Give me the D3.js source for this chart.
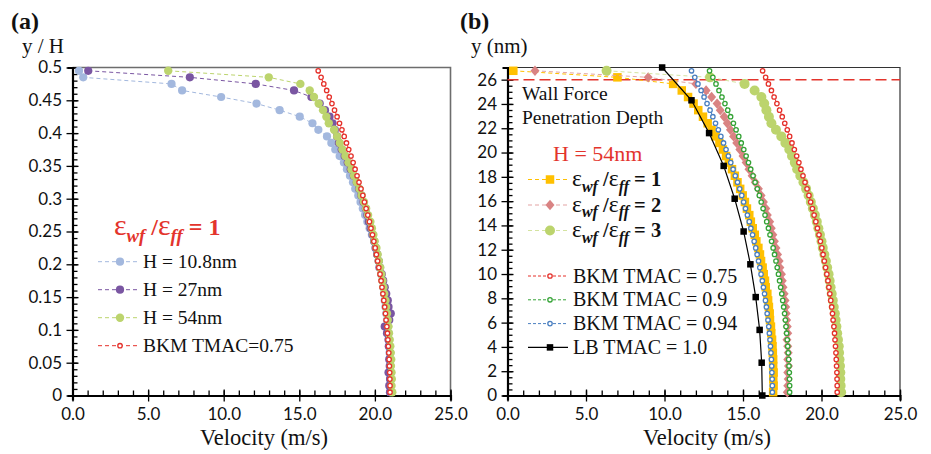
<!DOCTYPE html>
<html><head><meta charset="utf-8">
<script src="https://cdn.jsdelivr.net/npm/d3@7"></script>
<style>body{margin:0;background:#fff}svg{display:block}</style>
</head><body>
<svg id="c" width="931" height="454"></svg>
<script>
// ---------------- DATA ----------------
// panel (a): y/H bin centres (top to bottom)
const yLevelsA = [0.495,0.485,0.475,0.465,0.455,0.445,0.435,0.425,0.415,0.405,
  0.395,0.385,0.375,0.365,0.355,0.345,0.335,0.325,0.315,0.305,
  0.295,0.285,0.275,0.265,0.255,0.245,0.235,0.225,0.215,0.205,
  0.195,0.185,0.175,0.165,0.155,0.145,0.135,0.125,0.115,0.105,
  0.095,0.085,0.075,0.065,0.055,0.045,0.035,0.025,0.015,0.005];
// panel (b): y (nm) bin centres (top to bottom)
const yLevelsB = [26.73,26.19,25.65,25.11,24.57,24.03,23.49,22.95,22.41,21.87,
  21.33,20.79,20.25,19.71,19.17,18.63,18.09,17.55,17.01,16.47,
  15.93,15.39,14.85,14.31,13.77,13.23,12.69,12.15,11.61,11.07,
  10.53,9.99,9.45,8.91,8.37,7.83,7.29,6.75,6.21,5.67,
  5.13,4.59,4.05,3.51,2.97,2.43,1.89,1.35,0.81,0.27];

const velH108 = [0.43,0.71,6.55,7.25,9.83,12.17,13.70,15.03,15.87,16.26,
  16.83,17.12,17.38,17.67,17.95,18.15,18.35,18.55,18.70,18.90,
  19.05,19.20,19.35,19.50,19.65,19.80,19.95,20.05,20.15,20.25,
  20.35,20.42,20.50,20.55,20.60,20.65,20.70,20.75,20.80,20.85,
  20.90,20.92,20.95,20.97,20.98,21.00,21.00,21.00,21.00,21.00];
const velH27 = [1.04,7.76,12.12,14.65,15.80,16.35,16.70,17.00,17.20,17.35,
  17.50,17.62,17.80,18.00,18.20,18.40,18.60,18.80,18.95,19.10,
  19.25,19.40,19.50,19.60,19.72,19.85,19.95,20.05,20.15,20.25,
  20.30,20.45,20.55,20.65,20.75,20.85,20.90,21.05,20.95,20.65,
  20.80,20.90,20.92,21.00,20.95,20.98,20.90,21.00,20.95,21.00];
const velH54 = [6.33,12.98,15.07,15.69,15.97,16.28,16.57,16.79,16.95,17.30,
  17.50,17.68,17.85,18.05,18.25,18.45,18.62,18.80,18.98,19.12,
  19.28,19.42,19.55,19.70,19.80,19.90,19.98,20.10,20.18,20.26,
  20.35,20.42,20.50,20.56,20.62,20.70,20.74,20.80,20.85,20.90,
  20.93,20.98,21.02,21.05,21.08,21.06,21.10,21.12,21.10,21.15];
const velBKM075 = [16.25,16.44,16.62,16.81,16.98,17.16,17.33,17.50,17.66,17.82,
  17.97,18.12,18.27,18.42,18.56,18.69,18.82,18.95,19.08,19.20,
  19.31,19.42,19.53,19.64,19.74,19.84,19.93,20.02,20.10,20.18,
  20.26,20.34,20.41,20.47,20.53,20.59,20.65,20.70,20.74,20.79,
  20.83,20.86,20.89,20.92,20.94,20.96,20.98,20.99,21.00,21.00];
const velBKM090 = [12.87,13.08,13.28,13.47,13.66,13.85,14.03,14.21,14.39,14.56,
  14.73,14.89,15.05,15.20,15.35,15.49,15.64,15.77,15.91,16.04,
  16.16,16.28,16.40,16.51,16.62,16.72,16.82,16.92,17.01,17.10,
  17.18,17.26,17.33,17.40,17.47,17.53,17.59,17.65,17.70,17.74,
  17.78,17.82,17.85,17.88,17.91,17.93,17.95,17.96,17.97,17.97];
const velBKM094 = [11.72,11.93,12.13,12.33,12.52,12.71,12.90,13.08,13.25,13.43,
  13.59,13.76,13.92,14.07,14.22,14.37,14.51,14.65,14.79,14.92,
  15.04,15.16,15.28,15.40,15.50,15.61,15.71,15.81,15.90,15.99,
  16.07,16.15,16.23,16.30,16.37,16.43,16.49,16.54,16.59,16.64,
  16.68,16.72,16.75,16.78,16.81,16.83,16.84,16.86,16.87,16.87];
const velEps1 = [0.37,7.00,10.55,11.10,11.50,11.85,12.15,12.45,12.75,13.00,
  13.25,13.50,13.72,13.92,14.10,14.30,14.48,14.65,14.82,14.98,
  15.12,15.25,15.40,15.50,15.62,15.75,15.85,15.98,16.08,16.15,
  16.25,16.32,16.40,16.45,16.55,16.60,16.65,16.70,16.72,16.78,
  16.80,16.85,16.88,16.90,16.92,16.92,16.95,16.93,16.95,16.92];
const velEps2 = [1.75,8.96,12.00,12.65,13.00,13.35,13.55,13.80,14.00,14.20,
  14.40,14.60,14.80,15.00,15.20,15.38,15.58,15.78,15.98,16.15,
  16.30,16.45,16.55,16.70,16.80,16.90,17.00,17.10,17.20,17.30,
  17.35,17.45,17.50,17.55,17.62,17.68,17.72,17.75,17.78,17.82,
  17.85,17.80,17.85,17.88,17.85,17.90,17.85,17.88,17.85,17.82];
const velEps3 = [6.31,12.90,15.10,15.74,16.17,16.35,16.49,16.65,16.81,17.10,
  17.44,17.70,17.95,18.12,18.30,18.45,18.65,18.85,19.02,19.18,
  19.32,19.45,19.58,19.70,19.80,19.90,20.00,20.08,20.18,20.28,
  20.36,20.45,20.52,20.58,20.65,20.72,20.78,20.85,20.90,20.95,
  21.00,21.05,21.10,21.12,21.15,21.18,21.20,21.20,21.22,21.25];
const lbY = [27,24.3,21.6,18.9,16.2,13.5,10.8,8.1,5.4,2.7,0];
const lbVel = [9.85,11.72,12.84,13.77,14.47,15.04,15.47,15.81,16.06,16.19,16.23];
const wallDepth = 26;

const xTicks = [0,5,10,15,20,25];
const yTicksA = [0,0.05,0.1,0.15,0.2,0.25,0.3,0.35,0.4,0.45,0.5];
const yTicksB = [0,2,4,6,8,10,12,14,16,18,20,22,24,26];

// ---------------- DRAW ----------------
const svg = d3.select('#c');
const SERIF = "'Liberation Serif','Times New Roman',serif";
const SANS = "Lato,'Open Sans',sans-serif";

const xA = d3.scaleLinear().domain([0,25]).range([72.5,450.5]);
const yA = d3.scaleLinear().domain([0,0.5]).range([395.5,67.5]);
const xB = d3.scaleLinear().domain([0,25]).range([507.5,900]);
const yB = d3.scaleLinear().domain([0,27]).range([395.5,67.5]);

function frame(x, y, col, w) {
  const [x0,x1] = x.range(), [y0,y1] = y.range();
  svg.append('path').attr('d',`M${x0},${y1}H${x1}V${y0}`)
    .attr('fill','none').attr('stroke',col).attr('stroke-width',w);
}
frame(xA,yA,'#6d6d6d',1.6);
frame(xB,yB,'#333',1.2);

function axes(x, y, yTicks, yMinorStep, yFmt) {
  const y0 = y.range()[0], x0 = x.range()[0];
  const xmin = d3.range(0,25.001,1);
  const gmx = svg.append('g').attr('transform',`translate(0,${y0})`)
    .call(d3.axisBottom(x).tickValues(xmin).tickSize(-5).tickFormat(''));
  gmx.select('.domain').remove();
  const ymin = d3.range(0, y.domain()[1]+1e-9, yMinorStep);
  const gmy = svg.append('g').attr('transform',`translate(${x0},0)`)
    .call(d3.axisLeft(y).tickValues(ymin).tickSize(-5).tickFormat(''));
  gmy.select('.domain').remove();
  const gx = svg.append('g').attr('transform',`translate(0,${y0})`)
    .call(d3.axisBottom(x).tickValues(xTicks).tickSizeOuter(0).tickSize(5).tickFormat(d3.format('.1f')));
  gx.selectAll('.tick line').attr('y1',-6).attr('y2',6);
  gx.selectAll('text').attr('y',24.5).attr('dy',null).attr('font-family',SANS).attr('font-size',17).attr('fill','#111');
  const gy = svg.append('g').attr('transform',`translate(${x0},0)`)
    .call(d3.axisLeft(y).tickValues(yTicks).tickSizeOuter(0).tickSize(5).tickFormat(yFmt));
  gy.selectAll('.tick line').attr('x1',6).attr('x2',-6);
  gy.selectAll('text').attr('x',-10.5).attr('font-family',SANS).attr('font-size',17).attr('fill','#111');
  [gx,gy,gmx,gmy].forEach(g=>{ g.selectAll('line').attr('stroke','#000').attr('stroke-width',1.3); });
  [gx,gy].forEach(g=>g.select('.domain').attr('stroke','#000').attr('stroke-width',2.2));
}
axes(xA, yA, yTicksA, 0.01, d=>d3.format('')(+d.toFixed(2)));
axes(xB, yB, yTicksB, 0.5, d3.format('d'));

svg.append('line').attr('x1',xB(0)).attr('x2',xB(25)).attr('y1',yB(wallDepth)).attr('y2',yB(wallDepth))
  .attr('stroke','#e3342c').attr('stroke-width',1.5).attr('stroke-dasharray','11,5');

function marker(g, type, cx, cy, o) {
  if (type==='circle') {
    g.append('circle').attr('cx',cx).attr('cy',cy).attr('r',o.r)
      .attr('fill',o.fill).attr('stroke',o.stroke||'none').attr('stroke-width',o.sw||0);
  } else if (type==='square') {
    g.append('rect').attr('x',cx-o.s/2).attr('y',cy-o.s/2).attr('width',o.s).attr('height',o.s).attr('fill',o.fill);
  } else if (type==='diamond') {
    const a=o.s/2;
    g.append('path').attr('d',`M${cx},${cy-a*1.15}L${cx+a},${cy}L${cx},${cy+a*1.15}L${cx-a},${cy}Z`).attr('fill',o.fill);
  }
}
function series(x, y, vs, ys, o) {
  const g = svg.append('g');
  const pts = vs.map((v,i)=>[x(v), y(ys[i])]);
  g.append('path').attr('d',d3.line()(pts)).attr('fill','none')
    .attr('stroke',o.line).attr('stroke-width',o.lw||1).attr('stroke-dasharray',o.dash||null);
  pts.forEach(p=>marker(g,o.type,p[0],p[1],o));
}

const S = {
  h108:{type:'circle',r:4.1,fill:'#a3b8de',line:'#a3b8de',dash:'4,3'},
  h27:{type:'circle',r:4.1,fill:'#7a56a2',line:'#7a56a2',dash:'4,3'},
  h54:{type:'circle',r:4.2,fill:'#bcd46d',line:'#bcd46d',dash:'4,3'},
  bkm75:{type:'circle',r:2.2,fill:'#fff',stroke:'#e5312b',sw:1.3,line:'#e5312b',dash:'3,2'},
  bkm90:{type:'circle',r:2.2,fill:'#fff',stroke:'#35a336',sw:1.3,line:'#35a336',dash:'3,2'},
  bkm94:{type:'circle',r:2.2,fill:'#fff',stroke:'#4a7fc0',sw:1.3,line:'#4a7fc0',dash:'3,2'},
  e1:{type:'square',s:8.5,fill:'#ffc000',line:'#ffc000',dash:'4,3'},
  e2:{type:'diamond',s:9,fill:'#d98383',line:'#e3a3a3',dash:'4,3'},
  e3:{type:'circle',r:5,fill:'#bcd46d',line:'#d4e3a0',dash:'4,3'},
  lb:{type:'square',s:6.5,fill:'#000',line:'#000',lw:1.2}
};

series(xA,yA,velH108,yLevelsA,S.h108);
series(xA,yA,velH27,yLevelsA,S.h27);
series(xA,yA,velH54,yLevelsA,S.h54);
series(xA,yA,velBKM075,yLevelsA,S.bkm75);
series(xB,yB,velEps1,yLevelsB,S.e1);
series(xB,yB,velEps2,yLevelsB,S.e2);
series(xB,yB,velEps3,yLevelsB,S.e3);
series(xB,yB,velBKM075,yLevelsB,S.bkm75);
series(xB,yB,velBKM090,yLevelsB,S.bkm90);
series(xB,yB,velBKM094,yLevelsB,S.bkm94);
series(xB,yB,lbVel,lbY,S.lb);

// ---------------- TEXT ----------------
function txt(x,y,s,fs,o={}) {
  return svg.append('text').attr('x',x).attr('y',y).text(s)
    .attr('font-family',o.ff||SERIF).attr('font-size',fs).attr('fill',o.fill||'#111')
    .attr('font-weight',o.fw||'normal').attr('text-anchor',o.anchor||'start');
}
txt(11,29,'(a)',24,{fw:'bold'});
txt(460,29,'(b)',24,{fw:'bold'});
txt(22,53,'y / H',21);
txt(471,53,'y (nm)',21);
txt(264,445,'Velocity (m/s)',22.5,{anchor:'middle'});
txt(707,445,'Velocity (m/s)',22.5,{anchor:'middle'});

function epsLabel(x, yb, n, fs, color, k) {
  const t = svg.append('text').attr('x',x).attr('y',yb).attr('fill',color)
    .attr('font-family',SERIF).attr('font-weight','bold').attr('font-size',fs);
  t.append('tspan').text('ε').attr('font-size',fs*k).attr('font-weight','normal');
  t.append('tspan').text('wf').attr('font-style','italic').attr('font-size',fs*0.78).attr('dy',fs*0.28);
  t.append('tspan').text(' /').attr('dy',-fs*0.28);
  t.append('tspan').text('ε').attr('font-size',fs*k).attr('font-weight','normal');
  t.append('tspan').text('ff').attr('font-style','italic').attr('font-size',fs*0.78).attr('dy',fs*0.28);
  t.append('tspan').text(' = '+n).attr('dy',-fs*0.28);
}

epsLabel(114,235,1,24,'#e3342c',1.25);
const legA = [['H = 10.8nm',S.h108],['H = 27nm',S.h27],['H = 54nm',S.h54],['BKM TMAC=0.75',S.bkm75]];
legA.forEach((d,i)=>{
  const cy = 261.7 + i*28;
  const g = svg.append('g');
  g.append('line').attr('x1',98).attr('x2',138).attr('y1',cy).attr('y2',cy)
    .attr('stroke',d[1].line).attr('stroke-width',1).attr('stroke-dasharray','4,3');
  marker(g,d[1].type,120,cy,d[1]);
  txt(143,cy+6.5,d[0],19.5);
});

txt(522,100,'Wall Force',19.5);
txt(522,124,'Penetration Depth',19.5);
txt(553,161,'H = 54nm',22);
svg.selectAll('text').filter(function(){return d3.select(this).text()==='H = 54nm' && +d3.select(this).attr('x')===553;}).attr('fill','#e3342c');
[[1,S.e1],[2,S.e2],[3,S.e3]].forEach((d,i)=>{
  const cy = 179.5 + i*25.5;
  const g = svg.append('g');
  g.append('line').attr('x1',528).attr('x2',568).attr('y1',cy).attr('y2',cy)
    .attr('stroke',d[1].line).attr('stroke-width',1).attr('stroke-dasharray','4,3');
  marker(g,d[1].type,550,cy,d[1]);
  epsLabel(572,cy+6.5,d[0],20.5,'#111',1.15);
});
[['BKM TMAC = 0.75',S.bkm75],['BKM TMAC = 0.9',S.bkm90],['BKM TMAC = 0.94',S.bkm94],['LB TMAC = 1.0',S.lb]].forEach((d,i)=>{
  const cy = 276 + i*23.8;
  const g = svg.append('g');
  g.append('line').attr('x1',528).attr('x2',568).attr('y1',cy).attr('y2',cy)
    .attr('stroke',d[1].line).attr('stroke-width',d[1].lw||1).attr('stroke-dasharray',d[1].dash||null);
  marker(g,d[1].type,550,cy,d[1]);
  txt(573,cy+6.5,d[0],20);
});
</script>
</body></html>
